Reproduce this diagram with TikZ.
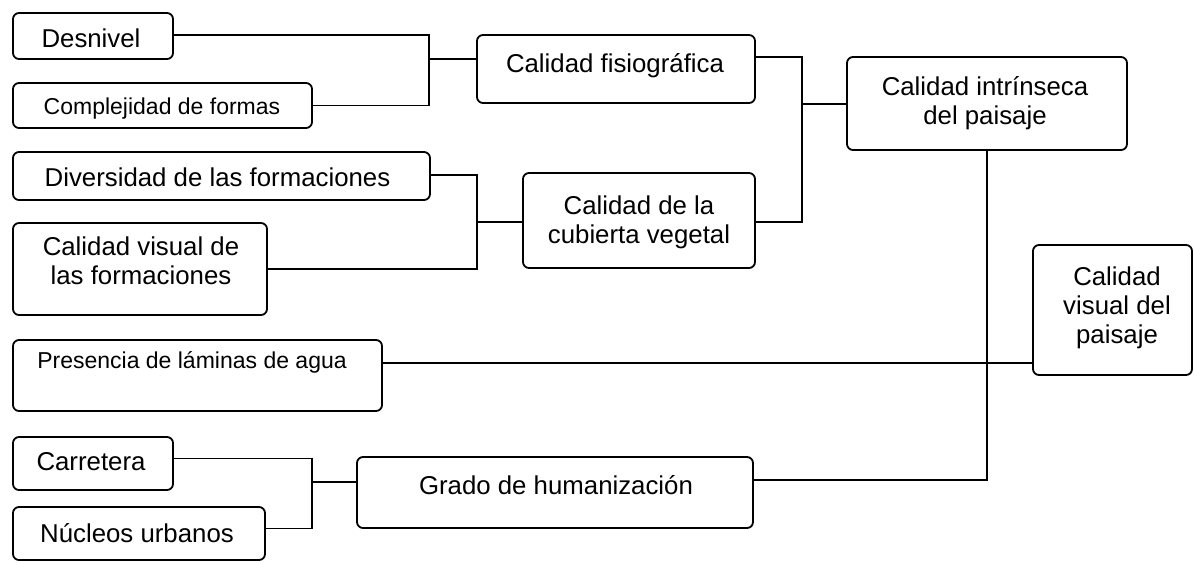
\documentclass[tikz,border=0pt]{standalone}
\usepackage{fontspec}
\setmainfont{Liberation Sans}
\begin{document}
\begin{tikzpicture}[x=1pt,y=-1pt,
  box/.style={draw, line width=1.8pt, rectangle, rounded corners=6pt, inner sep=0pt},
  txt/.style={inner sep=0pt, anchor=base, font=\fontsize{25.8}{29}\selectfont},
  smalltxt/.style={inner sep=0pt, anchor=base, font=\fontsize{23}{27}\selectfont},
  conn/.style={line width=1.8pt}]
\useasboundingbox (0,0) rectangle (1194,563);
% boxes
\node[box, minimum width=160pt, minimum height=46pt] (des) at (93,36) {};
\node[box, minimum width=299pt, minimum height=45pt] (comp) at (162.5,105.5) {};
\node[box, minimum width=278pt, minimum height=68pt] (fis) at (616,69) {};
\node[box, minimum width=232pt, minimum height=95pt] (cub) at (639,220.5) {};
\node[box, minimum width=280pt, minimum height=93pt] (intr) at (987,103.5) {};
\node[box, minimum width=159pt, minimum height=130pt] (vis) at (1112.5,310) {};
\node[box, minimum width=417pt, minimum height=48pt] (div) at (221.5,176) {};
\node[box, minimum width=254pt, minimum height=92pt] (form) at (140,269) {};
\node[box, minimum width=369pt, minimum height=71pt] (pre) at (197.5,375.5) {};
\node[box, minimum width=160pt, minimum height=53pt] (car) at (93,463.5) {};
\node[box, minimum width=252pt, minimum height=53pt] (nuc) at (139,533.5) {};
\node[box, minimum width=396pt, minimum height=71pt] (gra) at (555,492.5) {};
% texts
\node[txt] (des-t) at (91,47) {Desnivel};
\node[smalltxt] (comp-t) at (162,114) {Complejidad de formas};
\node[txt] (fis-t) at (615,72) {Calidad fisiográfica};
\node[txt] (cub-t) at (639,214) {\begin{tabular}[t]{@{}c@{}}Calidad de la\\cubierta vegetal\end{tabular}};
\node[txt] (intr-t) at (985,95) {\begin{tabular}[t]{@{}c@{}}Calidad intrínseca\\del paisaje\end{tabular}};
\node[txt] (vis-t) at (1117,285) {\begin{tabular}[t]{@{}c@{}}Calidad\\visual del\\paisaje\end{tabular}};
\node[txt] (div-t) at (217.5,186) {Diversidad de las formaciones};
\node[txt] (form-t) at (141,255) {\begin{tabular}[t]{@{}c@{}}Calidad visual de\\las formaciones\end{tabular}};
\node[smalltxt] (pre-t) at (192,368) {Presencia de láminas de agua};
\node[txt] (car-t) at (91,470) {Carretera};
\node[txt] (nuc-t) at (137,542) {Núcleos urbanos};
\node[txt] (gra-t) at (556,494) {Grado de humanización};
% junctions
\coordinate (j1) at (429,59);
\coordinate (j2) at (477,222);
\coordinate (j3) at (802,104);
\coordinate (f3) at (802,57);
\coordinate (j4) at (987,480);
\coordinate (j5) at (987,363);
\coordinate (j6) at (312,482);
% connectors
\draw[conn] ([yshift=1pt]des.east) -| (j1);
\draw[conn] (comp.east) -| (j1);
\draw[conn] (j1) -- (j1 -| fis.west);
\draw[conn] ([yshift=1pt]div.east) -| (j2);
\draw[conn] (form.east) -| (j2);
\draw[conn] (j2) -- (j2 -| cub.west);
\draw[conn] (f3 -| fis.east) -- (f3) |- ([yshift=-1.5pt]cub.east);
\draw[conn] (j3) -- (j3 -| intr.west);
\draw[conn] (intr.south) -- (j4) -- (j4 -| gra.east);
\draw[conn] (j5 -| pre.east) -- (j5 -| vis.west);
\draw[conn] ([yshift=5pt]car.east) -| (j6);
\draw[conn] ([yshift=5pt]nuc.east) -| (j6);
\draw[conn] (j6) -- (j6 -| gra.west);
\end{tikzpicture}
\end{document}
